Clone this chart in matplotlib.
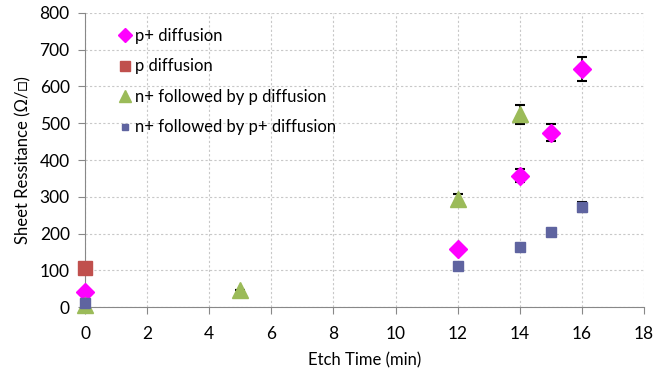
import matplotlib
matplotlib.use('Agg')
from matplotlib import pyplot as plt
from matplotlib.lines import Line2D

plt.rcParams['font.family'] = ['Lato', 'DejaVu Sans']

# etch time (min) and sheet resistance (ohm/sq)
pplus_t = [0, 12, 14, 15, 16]
pplus_r = [42, 158, 357, 474, 648]
pplus_err = [0, 0, 18, 23, 32]

p_t = [0]
p_r = [105]

np_t = [0, 5, 12, 14]
np_r = [5, 47, 295, 525]
np_err = [0, 0, 13, 26]

npp_t = [0, 12, 14, 15, 16]
npp_r = [11, 112, 163, 205, 273]
npp_err = [0, 0, 0, 0, 14]

labels = ['p+ diffusion', 'p diffusion', 'n+ followed by p diffusion', 'n+ followed by p+ diffusion']
colors = ['#FF00FF', '#C0504D', '#9BBB59', '#5F64A0']


def main():
    fig = plt.figure(figsize=(6.56, 3.81), dpi=100)
    ax = fig.add_axes([0.1296, 0.1942, 0.8521, 0.7717])

    eb = dict(ecolor='black', elinewidth=1.2, capsize=3.5, capthick=1.5, linestyle='none', zorder=3)
    series = [(pplus_t, pplus_r, pplus_err, 'D', 9), (p_t, p_r, None, 's', 10),
              (np_t, np_r, np_err, '^', 11), (npp_t, npp_r, npp_err, 's', 6.5)]
    handles = []
    for (t, r, err, m, ms), c, lab in zip(series, colors, labels):
        cont = ax.errorbar(t, r, yerr=err, marker=m, ms=ms, color=c, **eb)
        for art in cont.get_children():
            art.set_clip_on(False)
        handles.append(Line2D([], [], marker=m, ms=ms * 0.75, color=c, linestyle='none', label=lab))

    ax.set_xlim(0, 18)
    ax.set_ylim(0, 800)
    ax.set_xticks(range(0, 19, 2))
    ax.set_yticks(range(0, 801, 100))
    ax.grid(True, linestyle=(0, (2, 2)), color='#c8c8c8', linewidth=0.8)
    ax.set_axisbelow(True)
    for s in ['top', 'right']:
        ax.spines[s].set_visible(False)
    for s in ['left', 'bottom']:
        ax.spines[s].set_color('#888888')
    ax.tick_params(axis='both', colors='#888888', labelcolor='black', labelsize=12.5, length=5)
    ax.tick_params(axis='x', pad=9)
    ax.tick_params(axis='y', pad=6)
    ax.set_xlabel('Etch Time (min)', fontsize=12, labelpad=7)
    ax.set_ylabel('Sheet Ressitance (Ω/□)', fontsize=12, labelpad=6)

    ax.legend(handles=handles, loc='upper left', bbox_to_anchor=(0.03, 1.0), frameon=False, fontsize=12,
              handletextpad=0.1, labelspacing=0.87, handlelength=1.0)

    fig.savefig('out.png', dpi=100)


if __name__ == '__main__':
    main()
